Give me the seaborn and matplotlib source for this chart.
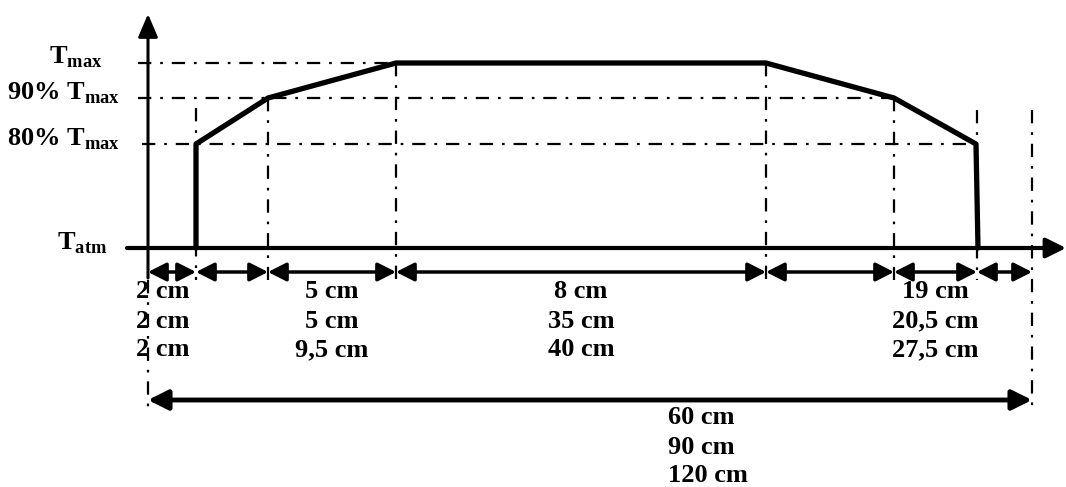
import matplotlib
matplotlib.use("Agg")
import matplotlib.pyplot as plt
import seaborn as sns

# Schéma du profil de température (unités du schéma : x vers la droite, y vers le bas)
lvl_names = [r"$\mathrm{T}_{\mathrm{max}}$", r"90% $\mathrm{T}_{\mathrm{max}}$",
             r"80% $\mathrm{T}_{\mathrm{max}}$", r"$\mathrm{T}_{\mathrm{atm}}$"]
lvl_y = [63, 98, 144, 248]
lvl_label_x = [103, 120, 120, 107]

# bornes des zones (axe, début, paliers, fin, limite)
bounds = [148, 196, 268, 396, 766, 894, 977, 1032]

# profil de température
profile_x = [196, 196, 268, 396, 766, 894, 976, 978]
profile_y = [248, 144, 98, 63, 63, 98, 144, 248]

# cotes
seg_x = [163, 332, 581, 935]
seg_labels = [["2 cm", "2 cm", "2 cm"],
              ["5 cm", "5 cm", "9,5 cm"],
              ["8 cm", "35 cm", "40 cm"],
              ["19 cm", "20,5 cm", "27,5 cm"]]
total_labels = ["60 cm", "90 cm", "120 cm"]

sns.set_theme(style="white")
plt.rcParams["font.family"] = ["Liberation Serif", "DejaVu Serif"]
plt.rcParams["font.weight"] = "bold"
plt.rcParams["text.color"] = "black"
plt.rcParams["mathtext.fontset"] = "custom"
plt.rcParams["mathtext.rm"] = "Liberation Serif:bold"
plt.rcParams["mathtext.bf"] = "Liberation Serif:bold"

fig = plt.figure(figsize=(10.66, 4.87), dpi=100)
ax = fig.add_axes([0, 0, 1, 1])
ax.set_xlim(0, 1066)
ax.set_ylim(487, 0)
ax.axis("off")

dd = (0, (6, 4, 1.2, 4))
ddkw = dict(color="black", lw=1.6, linestyle=dd)

# lignes de niveau en tiret-point
ax.plot([138, 396], [lvl_y[0]] * 2, **ddkw)
ax.plot([138, 894], [lvl_y[1]] * 2, **ddkw)
ax.plot([142, 977], [lvl_y[2]] * 2, **ddkw)

# verticales en tiret-point
ax.plot([196, 196], [108, 280], **ddkw)
ax.plot([268, 268], [98, 280], **ddkw)
ax.plot([396, 396], [63, 280], **ddkw)
ax.plot([766, 766], [63, 280], **ddkw)
ax.plot([894, 894], [98, 280], **ddkw)
ax.plot([977, 977], [110, 280], **ddkw)
ax.plot([1032, 1032], [110, 408], **ddkw)
ax.plot([148, 148], [280, 408], **ddkw)

# axes
ax.annotate("", xy=(148, 14), xytext=(148, 278),
            arrowprops=dict(arrowstyle="-|>,head_length=0.7,head_width=0.3",
                            mutation_scale=20, color="black", lw=2.2,
                            shrinkA=0, shrinkB=0))
ax.annotate("", xy=(1066, 248), xytext=(127, 248),
            arrowprops=dict(arrowstyle="-|>,head_length=0.6,head_width=0.3",
                            mutation_scale=20, color="black", lw=3,
                            shrinkA=0, shrinkB=0))

# profil
sns.lineplot(x=profile_x, y=profile_y, sort=False, estimator=None,
             color="black", lw=3.8, ax=ax)
ax.set_xlim(0, 1066)
ax.set_ylim(487, 0)

# flèches de cotes
for a, b in zip(bounds[:-1], bounds[1:]):
    ax.annotate("", xy=(b, 272), xytext=(a, 272),
                arrowprops=dict(arrowstyle="<|-|>,head_length=0.55,head_width=0.28",
                                mutation_scale=20, color="black", lw=2.5,
                                shrinkA=0, shrinkB=0))
ax.annotate("", xy=(bounds[-1], 400), xytext=(bounds[0], 400),
            arrowprops=dict(arrowstyle="<|-|>,head_length=0.6,head_width=0.3",
                            mutation_scale=20, color="black", lw=3.5,
                            shrinkA=0, shrinkB=0))

# étiquettes
for name, y, x in zip(lvl_names, lvl_y, lvl_label_x):
    ax.text(x, y + 1, name, ha="right", va="baseline", fontsize=19, color="black")

rows_y = [291, 321, 350]
for x, labs in zip(seg_x, seg_labels):
    for y, lab in zip(rows_y, labs):
        ax.text(x, y, lab, ha="center", va="center", fontsize=19,
                fontweight="bold", color="black")

for y, lab in zip([418, 447, 476], total_labels):
    ax.text(668, y, lab, ha="left", va="center", fontsize=19,
            fontweight="bold", color="black")

fig.savefig("out.png", dpi=100, facecolor="white")
